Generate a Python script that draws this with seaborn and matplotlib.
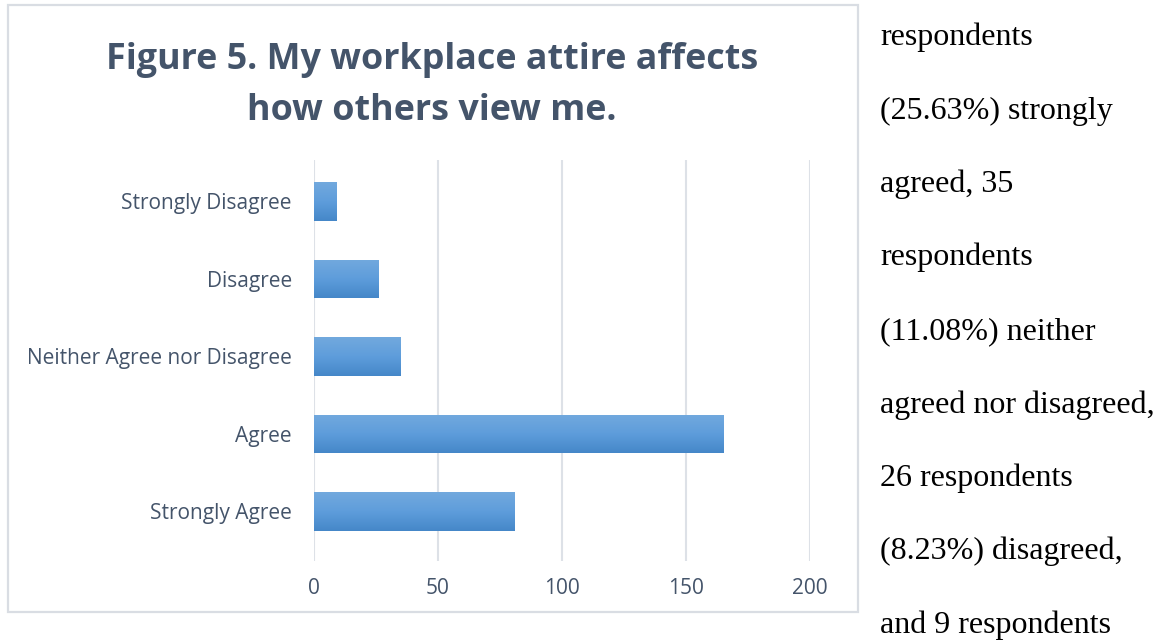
import matplotlib
matplotlib.use("Agg")
import matplotlib.pyplot as plt
from matplotlib.patches import Rectangle
from matplotlib.colors import LinearSegmentedColormap
import numpy as np
import pandas as pd
import seaborn as sns

# Survey responses
categories = ["Strongly Disagree", "Disagree", "Neither Agree nor Disagree",
              "Agree", "Strongly Agree"]
counts = [9, 26, 35, 165, 81]
x_ticks = [0, 50, 100, 150, 200]

title_lines = ["Figure 5. My workplace attire affects", "how others view me."]
body_lines = ["respondents", "(25.63%) strongly", "agreed, 35", "respondents",
              "(11.08%) neither", "agreed nor disagreed,", "26 respondents",
              "(8.23%) disagreed,", "and 9 respondents"]

sns.set_theme(style="white")
plt.rcParams["font.family"] = ["Open Sans", "DejaVu Sans"]

W, H = 1166, 641
fig = plt.figure(figsize=(W / 100, H / 100), dpi=100)
fig.patch.set_facecolor("white")

def fx(px):
    return px / W

def fy(py):
    return 1 - py / H

# chart frame
fig.patches.append(Rectangle((fx(8), fy(612)), fx(858) - fx(8), fy(5) - fy(612),
                             transform=fig.transFigure, fill=False,
                             edgecolor="#D9DDE3", linewidth=1.6, zorder=0))

ax = fig.add_axes([fx(314), fy(561), fx(810) - fx(314), fy(160) - fy(561)])
df = pd.DataFrame({"category": categories, "count": counts})
sns.barplot(data=df, x="count", y="category", orient="h", width=0.5,
            color="#5B9BD5", ax=ax, order=categories)

# vertical gradient fill on each bar
cmap = LinearSegmentedColormap.from_list("bar", ["#4587C8", "#5E9DDB", "#72A9DE"])
grad = np.linspace(0, 1, 256).reshape(-1, 1)
for p in ax.patches:
    x0, y0 = p.get_x(), p.get_y()
    w, h = p.get_width(), p.get_height()
    im = ax.imshow(grad, cmap=cmap, aspect="auto",
                   extent=[x0, x0 + w, y0 + h, y0], origin="lower", zorder=3)
    im.set_clip_path(p)
    p.set_edgecolor("none")

ax.set_xlim(0, 200)
ax.set_ylim(4.639, -0.535)
ax.set_xticks(x_ticks)
ax.set_xticklabels([str(t) for t in x_ticks])
ax.set_xlabel("")
ax.set_ylabel("")
for s in ax.spines.values():
    s.set_visible(False)
ax.grid(axis="x", color="#DDE1E7", linewidth=1.5, zorder=0)
ax.grid(axis="y", visible=False)
ax.set_axisbelow(True)
ax.tick_params(axis="both", length=0, labelcolor="#44546A", labelsize=15)
ax.tick_params(axis="x", pad=12)
ax.tick_params(axis="y", pad=16)

# title
for i, line in enumerate(title_lines):
    fig.text(fx(432), fy(69 + 51 * i), line, ha="center", va="baseline",
             fontsize=25.8, fontweight="bold", color="#44546A")

# running paragraph text
for i, line in enumerate(body_lines):
    fig.text(fx(880), fy(45 + 73.5 * i), line, ha="left", va="baseline",
             fontsize=23, family=["Liberation Serif", "DejaVu Serif"], color="black")

fig.savefig("out.png", dpi=100, facecolor="white")
